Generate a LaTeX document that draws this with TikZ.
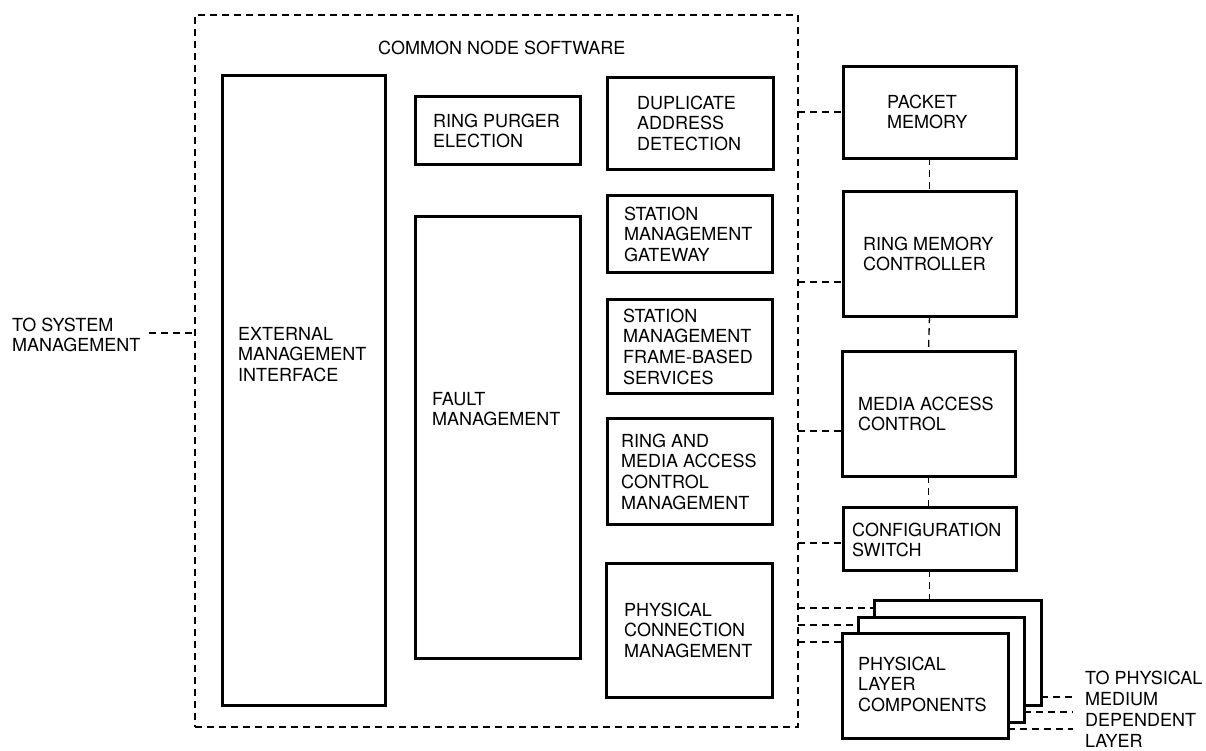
\documentclass[tikz,border=0pt]{standalone}
\usepackage{fontspec}
\setmainfont{TeX Gyre Heros}
\begin{document}
\begin{tikzpicture}[x=1pt,y=-1pt,
  blk/.style={draw, line width=3pt, fill=white, inner sep=0pt, outer sep=0pt},
  conn/.style={line width=1.3pt, dash pattern=on 7pt off 5pt},
  txt/.style={align=left, inner sep=0pt, anchor=base west, font=\fontsize{18}{20.8}\selectfont}]
\useasboundingbox (0,0) rectangle (1206,750);
% outer dashed region
\node[draw, conn, inner sep=0pt, outer sep=0pt, minimum width=603pt, minimum height=712pt] (cns) at (496.5,371) {};
\node[txt] (title) at (378,54) {COMMON NODE SOFTWARE};
% left column boxes
\node[blk, minimum width=163pt, minimum height=630pt] (ext) at (303.5,390) {};
\node[blk, minimum width=165pt, minimum height=68pt] (rpe) at (497.5,130) {};
\node[blk, minimum width=165pt, minimum height=442pt] (fault) at (497.5,437) {};
% middle column boxes
\node[blk, minimum width=166pt, minimum height=92pt] (dad) at (690,123) {};
\node[blk, minimum width=165pt, minimum height=77pt] (smg) at (689.5,233.5) {};
\node[blk, minimum width=165pt, minimum height=94pt] (smtf) at (689.5,346) {};
\node[blk, minimum width=165pt, minimum height=106pt] (rmac) at (689.5,471) {};
\node[blk, minimum width=166pt, minimum height=134pt] (pcm) at (689,630) {};
% right column boxes
\node[blk, minimum width=173pt, minimum height=92pt] (pm) at (929.5,112) {};
\node[blk, minimum width=173pt, minimum height=125pt] (rmc) at (929.5,253.5) {};
\node[blk, minimum width=173pt, minimum height=125pt] (mac) at (928.5,413.5) {};
\node[blk, minimum width=173pt, minimum height=63pt] (cs) at (929.5,538.5) {};
\node[blk, minimum width=167pt, minimum height=105pt] (plback) at (957.5,652.5) {};
\node[blk, minimum width=166pt, minimum height=105pt] (plmid) at (941,669.5) {};
\node[blk, minimum width=166pt, minimum height=105pt] (plfront) at (925,685.5) {};
% texts (anchor = baseline of the last line)
\node[txt] (t-ext) at (238,381.6) {EXTERNAL\\MANAGEMENT\\INTERFACE};
\node[txt] (t-rpe) at (433,147.8) {RING PURGER\\ELECTION};
\node[txt] (t-fault) at (432,425.8) {FAULT\\MANAGEMENT};
\node[txt] (t-dad) at (637,150.6) {DUPLICATE\\ADDRESS\\DETECTION};
\node[txt] (t-smg) at (624,261.6) {STATION\\MANAGEMENT\\GATEWAY};
\node[txt] (t-smtf) at (623,384.4) {STATION\\MANAGEMENT\\FRAME-BASED\\SERVICES};
\node[txt] (t-rmac) at (621,509.4) {RING AND\\MEDIA ACCESS\\CONTROL\\MANAGEMENT};
\node[txt] (t-pcm) at (624,657.6) {PHYSICAL\\CONNECTION\\MANAGEMENT};
\node[txt] (t-pm) at (887,128.8) {PACKET\\MEMORY};
\node[txt] (t-rmc) at (863,270.8) {RING MEMORY\\CONTROLLER};
\node[txt] (t-mac) at (858,430.8) {MEDIA ACCESS\\CONTROL};
\node[txt] (t-cs) at (852,556.8) {CONFIGURATION\\SWITCH};
\node[txt] (t-pl) at (858,711.6) {PHYSICAL\\LAYER\\COMPONENTS};
\node[txt] (t-sys) at (12,351.8) {TO SYSTEM\\MANAGEMENT};
\node[txt] (t-pmd) at (1085,747) {TO PHYSICAL\\MEDIUM\\DEPENDENT\\LAYER};
% free ends
\coordinate (sysend) at (149,333);
\coordinate (pmd1) at (1073,697);
\coordinate (pmd2) at (1073,712);
\coordinate (pmd3) at (1073,729);
% connectors
\draw[conn] (sysend) -- (cns.west |- sysend);
\draw[conn] (cns.east |- pm.west) -- (pm.west);
\draw[conn] (cns.east |- 0,282) -- (rmc.west |- 0,282);
\draw[conn] (cns.east |- 0,431) -- (mac.west |- 0,431);
\draw[conn] (cns.east |- 0,543) -- (cs.west |- 0,543);
\draw[conn] (cns.east |- 0,608) -- (plback.west |- 0,608);
\draw[conn] (cns.east |- 0,625) -- (plmid.west |- 0,625);
\draw[conn] (cns.east |- 0,642) -- (plfront.west |- 0,642);
\draw[conn] (pm.south) -- (rmc.north);
\draw[conn] (rmc.south) -- (mac.north);
\draw[conn] (mac.south) -- (mac.south |- cs.north);
\draw[conn] (cs.south) -- (cs.south |- plback.north);
\draw[conn] (plback.east |- pmd1) -- (pmd1);
\draw[conn] (plmid.east |- pmd2) -- (pmd2);
\draw[conn] (plfront.east |- pmd3) -- (pmd3);
\end{tikzpicture}
\end{document}
